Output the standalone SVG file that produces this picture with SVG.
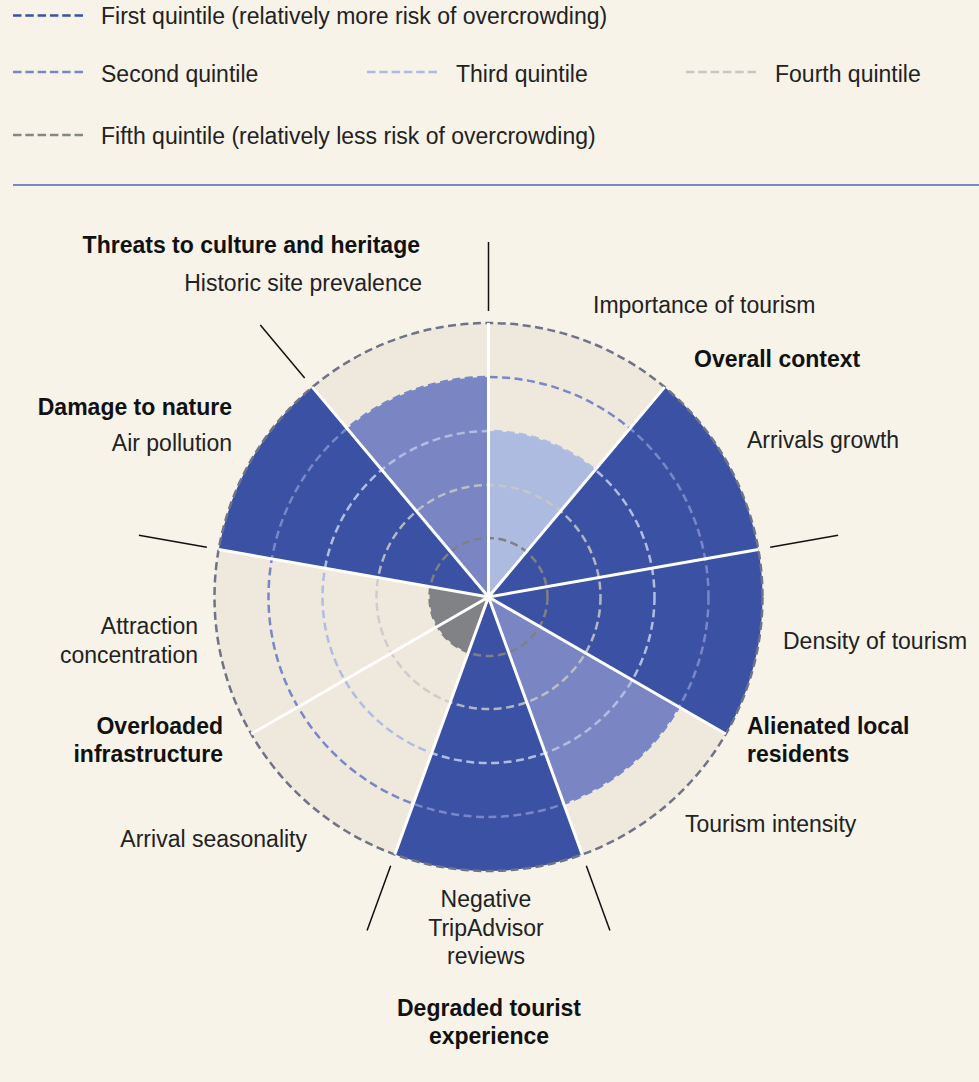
<svg xmlns="http://www.w3.org/2000/svg" width="979" height="1082" viewBox="0 0 979 1082">
<style>
text{font-family:"Liberation Sans",Arial,sans-serif;font-size:23px;fill:#222}
.b{font-weight:bold;fill:#111}
.e{text-anchor:end}
.m{text-anchor:middle}
.lg{fill:none;stroke-width:2.5;stroke-dasharray:8.5 3.8}
.ring{fill:none;stroke-width:2.5;stroke-dasharray:8 4.5}
.div{stroke:#fff;stroke-width:3;fill:none}
.tick{stroke:#111;stroke-width:1.5}
.q1{fill:#3B52A4}.q2{fill:#7986C3}.q3{fill:#AEBBE1}.q5{fill:#818285}
</style>
<rect width="979" height="1082" fill="#F7F3E9"/>
<g id="legend">
<line class="lg" x1="13" y1="15.5" x2="84" y2="15.5" stroke="#3B52A5"/>
<text x="101" y="24">First quintile (relatively more risk of overcrowding)</text>
<line class="lg" x1="13" y1="72" x2="84" y2="72" stroke="#7986C5"/>
<text x="101" y="81.5">Second quintile</text>
<line class="lg" x1="367" y1="72" x2="438" y2="72" stroke="#AEBBE1"/>
<text x="456" y="81.5">Third quintile</text>
<line class="lg" x1="686" y1="72" x2="757" y2="72" stroke="#C6C6C6"/>
<text x="775" y="81.5">Fourth quintile</text>
<line class="lg" x1="13" y1="135" x2="84" y2="135" stroke="#858689"/>
<text x="101" y="143.5">Fifth quintile (relatively less risk of overcrowding)</text>
<line x1="13" y1="185" x2="979" y2="185" stroke="#7886C4" stroke-width="2"/>
</g>
<g id="chart">
<circle cx="488.5" cy="597" r="274" fill="#EFE8DC"/>
<g id="seg-importance"><path class="q3" d="M488.5,597 L488.5,431 A166,166 0 0 1 595.20,469.84 Z"/></g>
<g id="seg-arrivals-density"><path class="q1" d="M488.5,597 L664.62,387.10 A274,274 0 0 1 725.79,734 Z"/></g>
<g id="seg-intensity"><path class="q2" d="M488.5,597 L679.03,707 A220,220 0 0 1 563.74,803.73 Z"/></g>
<g id="seg-tripadvisor"><path class="q1" d="M488.5,597 L582.21,854.48 A274,274 0 0 1 394.79,854.48 Z"/></g>
<g id="seg-seasonality-attraction"><path class="q5" d="M488.5,597 L468.32,652.44 A59,59 0 0 1 430.40,586.75 Z"/></g>
<g id="seg-air"><path class="q1" d="M488.5,597 L218.66,549.42 A274,274 0 0 1 312.38,387.10 Z"/></g>
<g id="seg-historic"><path class="q2" d="M488.5,597 L347.09,428.47 A220,220 0 0 1 488.5,377 Z"/></g>
<g id="rings">
<circle class="ring" cx="488.5" cy="597" r="59" stroke="#7F8085"/>
<circle class="ring" cx="488.5" cy="597" r="112" stroke="#C8C8C8" stroke-opacity="0.85"/>
<circle class="ring" cx="488.5" cy="597" r="166" stroke="#B0BDE3"/>
<circle class="ring" cx="488.5" cy="597" r="220" stroke="#7887C8"/>
<circle class="ring" cx="488.5" cy="597" r="274" stroke="#6E7388"/>
</g>
</g>
<g id="connectors">
<path class="div" d="M488.5,597 L488.5,323 M488.5,597 L664.62,387.10 M488.5,597 L758.34,549.42 M488.5,597 L725.79,734 M488.5,597 L582.21,854.48 M488.5,597 L394.79,854.48 M488.5,597 L251.21,734 M488.5,597 L218.66,549.42 M488.5,597 L312.38,387.10"/>
<line class="tick" x1="488.5" y1="311" x2="488.5" y2="242"/>
<line class="tick" x1="770.16" y1="547.34" x2="838.11" y2="535.35"/>
<line class="tick" x1="586.32" y1="865.75" x2="609.92" y2="930.59"/>
<line class="tick" x1="390.68" y1="865.75" x2="367.08" y2="930.59"/>
<line class="tick" x1="206.84" y1="547.34" x2="138.89" y2="535.35"/>
<line class="tick" x1="304.66" y1="377.91" x2="260.31" y2="325.05"/>
</g>
<g id="labels">
<g id="cat-culture"><text class="b e" x="420" y="253">Threats to culture and heritage</text><text class="e" x="422" y="291">Historic site prevalence</text></g>
<g id="cat-context"><text x="593" y="313">Importance of tourism</text><text class="b" x="694" y="367">Overall context</text><text x="747" y="448">Arrivals growth</text></g>
<g id="cat-residents"><text x="783" y="649">Density of tourism</text><text class="b" x="747" y="734">Alienated local</text><text class="b" x="747" y="762">residents</text><text x="685" y="832">Tourism intensity</text></g>
<g id="cat-experience"><text class="m" x="486" y="907">Negative</text><text class="m" x="486" y="936">TripAdvisor</text><text class="m" x="486" y="964">reviews</text><text class="b m" x="489" y="1016">Degraded tourist</text><text class="b m" x="489" y="1044">experience</text></g>
<g id="cat-infrastructure"><text class="e" x="307" y="847">Arrival seasonality</text><text class="b e" x="223" y="734">Overloaded</text><text class="b e" x="223" y="762">infrastructure</text><text class="e" x="198" y="634">Attraction</text><text class="e" x="198" y="663">concentration</text></g>
<g id="cat-nature"><text class="b e" x="232" y="415">Damage to nature</text><text class="e" x="232" y="451">Air pollution</text></g>
</g>
</svg>
